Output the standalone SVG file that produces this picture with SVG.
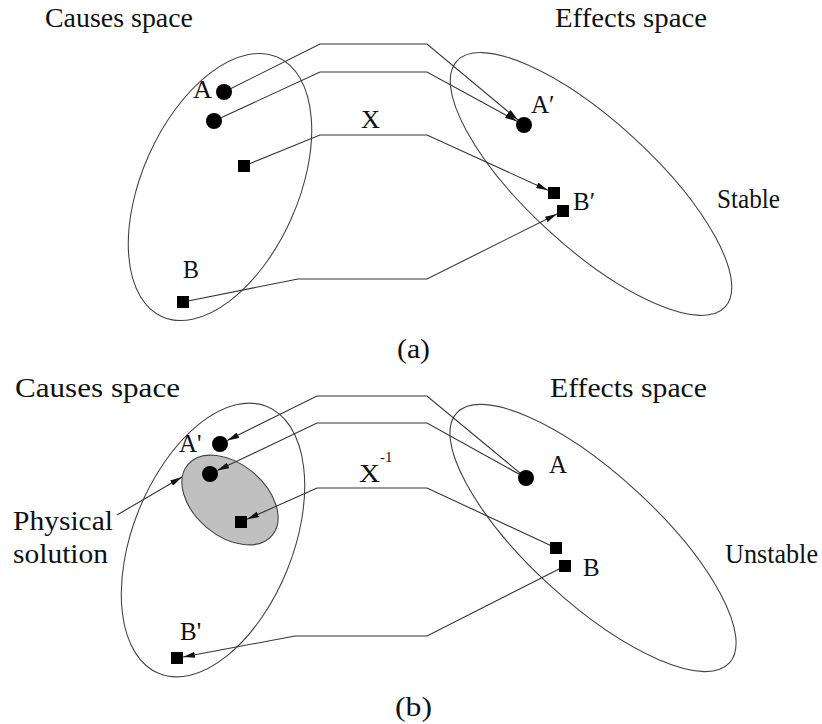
<svg xmlns="http://www.w3.org/2000/svg" width="822" height="724" viewBox="0 0 822 724">
<defs>
<marker id="ah" viewBox="0 0 12 6" refX="12" refY="3" markerWidth="12" markerHeight="6" markerUnits="userSpaceOnUse" orient="auto"><path d="M0,0 L12,3 L0,6 z" fill="#111"/></marker>
</defs>
<style>
.t{font-family:"Liberation Serif","Times New Roman",serif;fill:#111}
.big{font-size:27px}
.lbl{font-size:25px}
.sp{fill:none;stroke:#444;stroke-width:1.1}
.cn{fill:none;stroke:#333;stroke-width:1.1}
.k{fill:#000}
</style>
<rect width="822" height="724" fill="#fff"/>

<!-- Panel (a) -->
<g id="a-titles">
<text class="t big" x="45" y="27" textLength="148" lengthAdjust="spacingAndGlyphs">Causes space</text>
<text class="t big" x="555" y="27" textLength="152" lengthAdjust="spacingAndGlyphs">Effects space</text>
<text class="t big" x="717" y="208" textLength="63" lengthAdjust="spacingAndGlyphs" font-size="24">Stable</text>
<text class="t big" x="397" y="358" textLength="33" lengthAdjust="spacingAndGlyphs">(a)</text>
</g>
<g id="a-causes">
<ellipse class="sp" cx="220" cy="187" rx="78" ry="142" transform="rotate(24 220 187)"/>
</g>
<g id="a-effects">
<ellipse class="sp" cx="591" cy="184" rx="182" ry="63" transform="rotate(42.5 591 184)"/>
</g>
<g id="a-connectors">
<polyline class="cn" points="224,92 320,44 427,44 517.9,119.9" marker-end="url(#ah)"/>
<polyline class="cn" points="214,121 320,72 427,72 517,121.2" marker-end="url(#ah)"/>
<polyline class="cn" points="244,166 320,135 427,135 548,190.3" marker-end="url(#ah)"/>
<polyline class="cn" points="183,302 298,279 427,279 557,214" marker-end="url(#ah)"/>
</g>
<g id="a-A">
<circle class="k" cx="224" cy="92" r="8"/>
<text class="t lbl" x="193" y="98" textLength="19" lengthAdjust="spacingAndGlyphs">A</text>
</g>
<g id="a-A2"><circle class="k" cx="214" cy="121" r="8"/></g>
<g id="a-X">
<rect class="k" x="238" y="160" width="12" height="12"/>
<text class="t lbl" x="361" y="128" textLength="19" lengthAdjust="spacingAndGlyphs">X</text>
</g>
<g id="a-B">
<rect class="k" x="177" y="296" width="12" height="12"/>
<text class="t lbl" x="183" y="278" textLength="16" lengthAdjust="spacingAndGlyphs">B</text>
</g>
<g id="a-Ap">
<circle class="k" cx="524" cy="125" r="8"/>
<text class="t lbl" x="531" y="113">A′</text>
</g>
<g id="a-Bp1"><rect class="k" x="548" y="187" width="12" height="12"/></g>
<g id="a-Bp2">
<rect class="k" x="557" y="205" width="12" height="12"/>
<text class="t lbl" x="573" y="210">B′</text>
</g>

<!-- Panel (b) -->
<g id="b-titles">
<text class="t big" x="15" y="397" textLength="165" lengthAdjust="spacingAndGlyphs">Causes space</text>
<text class="t big" x="550" y="397" textLength="157" lengthAdjust="spacingAndGlyphs">Effects space</text>
<text class="t big" x="725" y="563" textLength="93" lengthAdjust="spacingAndGlyphs">Unstable</text>
<text class="t big" x="395" y="716" textLength="37" lengthAdjust="spacingAndGlyphs">(b)</text>
</g>
<g id="b-causes">
<ellipse class="sp" cx="213" cy="540" rx="80" ry="144" transform="rotate(22 213 540)"/>
</g>
<g id="b-physical">
<ellipse cx="230" cy="500" rx="55" ry="36" transform="rotate(40 230 500)" fill="#c0c0c0" stroke="#444" stroke-width="1.1"/>
<text class="t big" x="13" y="530" textLength="100" lengthAdjust="spacingAndGlyphs">Physical</text>
<text class="t big" x="13" y="563" textLength="95" lengthAdjust="spacingAndGlyphs">solution</text>
</g>
<g id="b-effects">
<ellipse class="sp" cx="593" cy="538" rx="185" ry="64" transform="rotate(42.5 593 538)"/>
</g>
<g id="b-connectors">
<line class="cn" x1="117" y1="515" x2="182" y2="477" marker-end="url(#ah)"/>
<polyline class="cn" points="526,478 427,396 317,396 227.2,440.5" marker-end="url(#ah)"/>
<polyline class="cn" points="526,478 427,423 317,423 217.2,470.6" marker-end="url(#ah)"/>
<polyline class="cn" points="556,548 427,488 317,488 247,519.3" marker-end="url(#ah)"/>
<polyline class="cn" points="565,566 427,636 295,636 183,657" marker-end="url(#ah)"/>
</g>
<g id="b-Ap">
<circle class="k" cx="220" cy="444" r="8"/>
<text class="t lbl" x="179" y="452">A'</text>
</g>
<g id="b-Ap2"><circle class="k" cx="210" cy="474" r="8"/></g>
<g id="b-Xinv">
<rect class="k" x="235" y="516" width="12" height="12"/>
<text class="t lbl" x="359" y="482" textLength="21" lengthAdjust="spacingAndGlyphs">X</text>
<text class="t" x="380" y="462" font-size="15">-1</text>
</g>
<g id="b-Bp">
<rect class="k" x="171" y="652" width="12" height="12"/>
<text class="t lbl" x="180" y="640">B'</text>
</g>
<g id="b-A">
<circle class="k" cx="526" cy="478" r="8"/>
<text class="t lbl" x="549" y="473">A</text>
</g>
<g id="b-B1"><rect class="k" x="550" y="542" width="12" height="12"/></g>
<g id="b-B2">
<rect class="k" x="559" y="560" width="12" height="12"/>
<text class="t lbl" x="583" y="576">B</text>
</g>
</svg>
